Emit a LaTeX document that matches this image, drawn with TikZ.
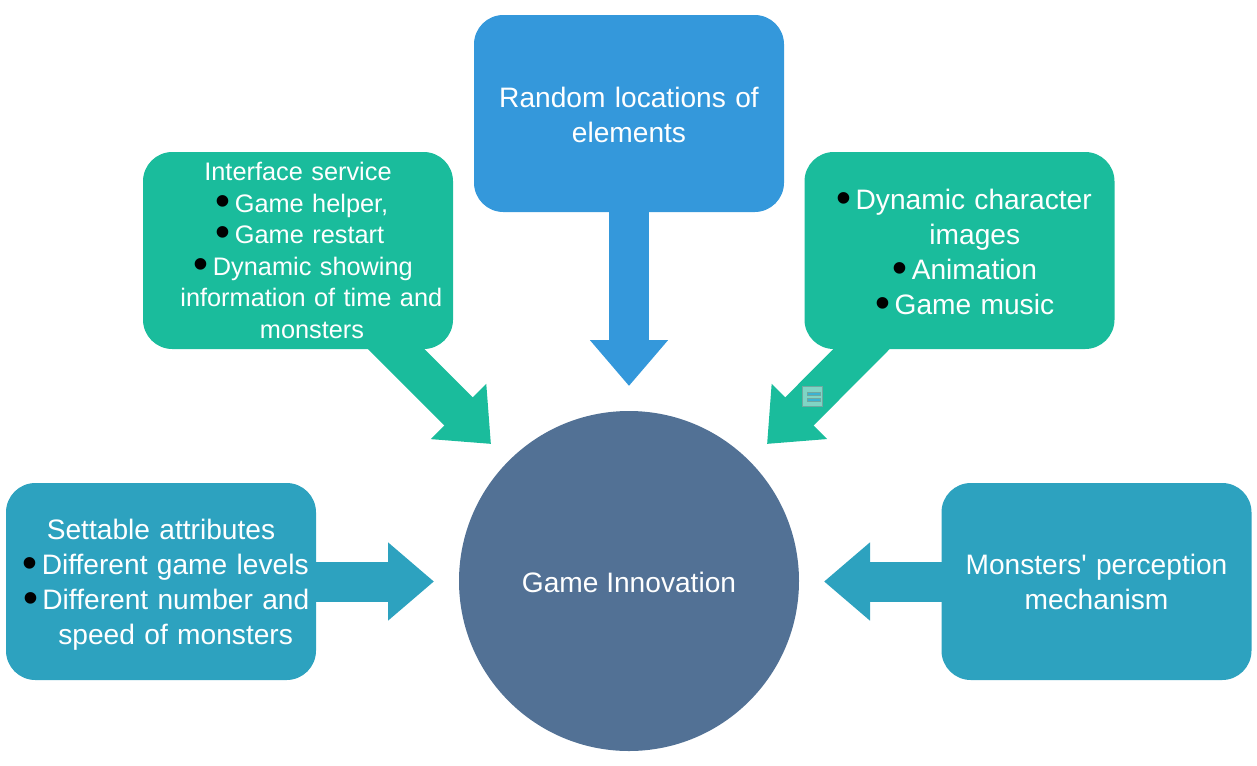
\documentclass[tikz,border=0pt]{standalone}
\usepackage{fontspec}
\setmainfont{Liberation Sans}
\usetikzlibrary{arrows.meta,backgrounds}

\definecolor{hubblue}{HTML}{527195}
\definecolor{topblue}{HTML}{3498DB}
\definecolor{sidegreen}{HTML}{1ABC9C}
\definecolor{lowteal}{HTML}{2DA2BF}
\definecolor{iconfill}{HTML}{7FD5C5}
\definecolor{iconedge}{HTML}{6FA8A0}
\definecolor{iconbar}{HTML}{3BB3D3}

\newcommand{\bigtext}{\fontsize{21.1}{26.25}\selectfont}
\newcommand{\smalltext}{\fontsize{19}{23.7}\selectfont}
\newcommand{\blackdot}{{\fontsize{32}{10}\selectfont\raisebox{-2.2pt}{\textcolor{black}{•}}}\hspace{3.1pt}}
\newcommand{\nudge}[1]{\hspace*{#1pt}}
\newcommand{\pushdown}[1]{\rule{0pt}{#1pt}}

\tikzstyle{featurebox} = [
	shape = rectangle,
	rounded corners = 22pt,
	minimum width = 232.5pt,
	minimum height = 147.75pt,
	text width = 232.5pt,
	inner sep = 0pt,
	align = center,
	text = white
	]
\tikzstyle{blockarrow} = [
	line width = 30pt,
	-{Triangle[length=34.5pt,width=56.5pt]}
	]
\tikzstyle{iconline} = [
	draw = iconedge,
	fill = iconbar,
	minimum width = 10pt,
	minimum height = 2.4pt,
	inner sep = 0pt,
	line width = 0.4pt
	]

\begin{document}
\begin{tikzpicture}[
	x = 0.75pt,
	y = -0.75pt
	]

			   \useasboundingbox (0,0) rectangle (1257,765);

			   \node[circle, fill=hubblue, text=white, minimum size=255pt, inner sep=0pt, font=\bigtext] (hub) at (629,581) {\pushdown{17}Game Innovation};

			   \node[featurebox, fill=topblue, font=\bigtext] (random) at (629,113.5) {\pushdown{17}Random locations of\\elements};
			   \node[featurebox, fill=sidegreen, font=\smalltext] (service) at (298,250.5) {Interface service\\\nudge{6}\blackdot Game helper,\\\nudge{3}\blackdot Game restart\\\nudge{8}\blackdot Dynamic showing\\\nudge{20}information of time and\\\nudge{21}monsters};
			   \node[featurebox, fill=sidegreen, font=\bigtext] (dynamic) at (959.5,250.5) {\pushdown{19.2}\nudge{7}\blackdot Dynamic character\\\nudge{23}images\\\nudge{8}\blackdot Animation\\\nudge{8}\blackdot Game music};
			   \node[featurebox, fill=lowteal, font=\bigtext] (settable) at (161,581.5) {\pushdown{20}Settable attributes\\\nudge{7}\blackdot Different game levels\\\nudge{8}\blackdot Different number and\\\nudge{22}speed of monsters};
			   \node[featurebox, fill=lowteal, font=\bigtext] (perception) at (1096.5,581.5) {Monsters\textquotesingle{} perception\\mechanism};

			   \coordinate (randomtip) at (629,386);
			   \coordinate (servicetip) at (491,444);
			   \coordinate (dynamictip) at (767,444);
			   \coordinate (settabletip) at (434,581.5);
			   \coordinate (perceptiontip) at (824,581.5);

			   \begin{scope}[on background layer]
			   \draw[blockarrow, topblue] (random.center) -- (randomtip);
			   \draw[blockarrow, sidegreen] (service.center) -- (servicetip);
			   \draw[blockarrow, sidegreen] (dynamic.center) -- (dynamictip);
			   \draw[blockarrow, lowteal] (settable.center) -- (settabletip);
			   \draw[blockarrow, lowteal] (perception.center) -- (perceptiontip);
			   \end{scope}

			   \node[draw=iconedge, line width=0.9pt, fill=iconfill, minimum size=15pt, inner sep=0pt] (icon) at (812.5,396.5) {};
			   \node[iconline] (iconbartop) at (813.5,393.5) {};
			   \node[iconline] (iconbarlow) at (813.5,400) {};
		   \end{tikzpicture}
\end{document}
